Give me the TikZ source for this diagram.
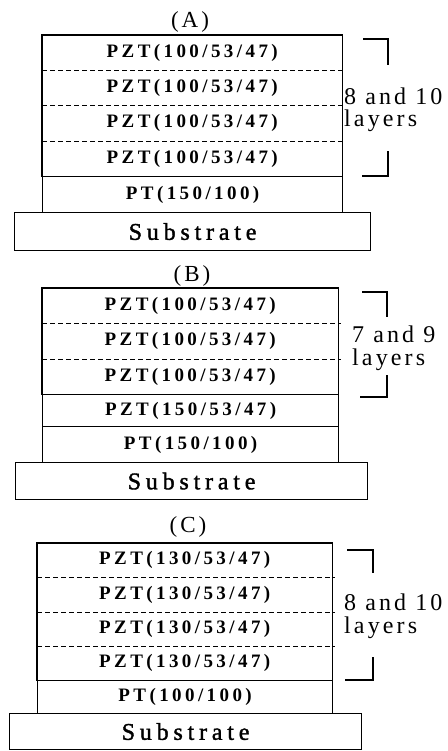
\documentclass[tikz,border=0pt]{standalone}
\usepackage{fontspec}
\newfontfamily\layerfont{Liberation Serif}[LetterSpace=18]
\newfontfamily\notefont{Liberation Serif}[LetterSpace=13]
\newfontfamily\subfont{Liberation Serif}[LetterSpace=20,FakeBold=1.5]
\def\pztA{PZT(100/53/47)}
\def\pztC{PZT(130/53/47)}
\begin{document}
\begin{tikzpicture}[x=1pt,y=-1pt,
    layer/.style={anchor=north west,inner sep=0pt,font=\layerfont\bfseries\fontsize{19}{19}\selectfont},
    framed/.style={layer,draw,line width=1.2pt},
    sub/.style={anchor=north west,inner sep=0pt,draw,line width=1.2pt,font=\subfont\fontsize{24}{24}\selectfont},
    sep/.style={line width=0.8pt,dash pattern=on 5pt off 3pt},
    outline/.style={line width=1.2pt},
    title/.style={inner sep=0pt,font=\notefont\fontsize{23}{23}\selectfont},
    note/.style={anchor=base west,align=left,inner sep=0pt,font=\notefont\fontsize{24}{22.5}\selectfont}]
  \useasboundingbox (0,0) rectangle (447,751);

  \node[title] (tA) at (190,22) {(A)};
  \foreach \i in {1,...,4} {
    \node[layer,minimum width=300pt,minimum height=35.25pt] (a\i) at (42,{35+35.25*(\i-1)}) {\pztA};
  }
  \draw[outline] (a1.north west) rectangle (a4.south east);
  \foreach \i in {1,2,3} {
    \draw[sep] (a\i.south west) -- ([xshift=3pt]a\i.south east);
  }
  \node[framed,minimum width=300pt,minimum height=36pt] (ptA) at (42,176) {PT(150/100)};
  \node[sub,minimum width=356pt,minimum height=38pt] (sA) at (14,212) {Substrate};
  \coordinate (kA1) at (363,39);
  \coordinate (kA2) at (362,176);
  \draw[outline] (kA1) -| ++(25,26);
  \draw[outline] (kA2) -| ++(26,-25);
  \node[note] (nA) at (344,127) {8 and 10\\layers};

  \node[title] (tB) at (192,276) {(B)};
  \foreach \i in {1,2,3} {
    \node[layer,minimum width=296pt,minimum height=35.33pt] (b\i) at (42,{288+35.33*(\i-1)}) {\pztA};
  }
  \draw[outline] (b1.north west) rectangle (b3.south east);
  \foreach \i in {1,2} {
    \draw[sep] (b\i.south west) -- ([xshift=3pt]b\i.south east);
  }
  \node[framed,minimum width=296pt,minimum height=32pt] (b4) at (42,394) {PZT(150/53/47)};
  \node[framed,minimum width=296pt,minimum height=36pt] (ptB) at (42,426) {PT(150/100)};
  \node[sub,minimum width=352pt,minimum height=37pt] (sB) at (15,462) {Substrate};
  \coordinate (kB1) at (362,292);
  \coordinate (kB2) at (360,397);
  \draw[outline] (kB1) -| ++(25,25);
  \draw[outline] (kB2) -| ++(27,-22);
  \node[note] (nB) at (352,365) {7 and 9\\layers};

  \node[title] (tC) at (188,527) {(C)};
  \foreach \i in {1,...,4} {
    \node[layer,minimum width=295pt,minimum height=34.25pt] (c\i) at (37,{543+34.25*(\i-1)}) {\pztC};
  }
  \draw[outline] (c1.north west) rectangle (c4.south east);
  \foreach \i in {1,2,3} {
    \draw[sep] (c\i.south west) -- ([xshift=3pt]c\i.south east);
  }
  \node[framed,minimum width=295pt,minimum height=33pt] (ptC) at (37,680) {PT(100/100)};
  \node[sub,minimum width=352pt,minimum height=36pt] (sC) at (9,713) {Substrate};
  \coordinate (kC1) at (347,550);
  \coordinate (kC2) at (345,680);
  \draw[outline] (kC1) -| ++(26,23);
  \draw[outline] (kC2) -| ++(28,-23);
  \node[note] (nC) at (344,633) {8 and 10\\layers};
\end{tikzpicture}
\end{document}
